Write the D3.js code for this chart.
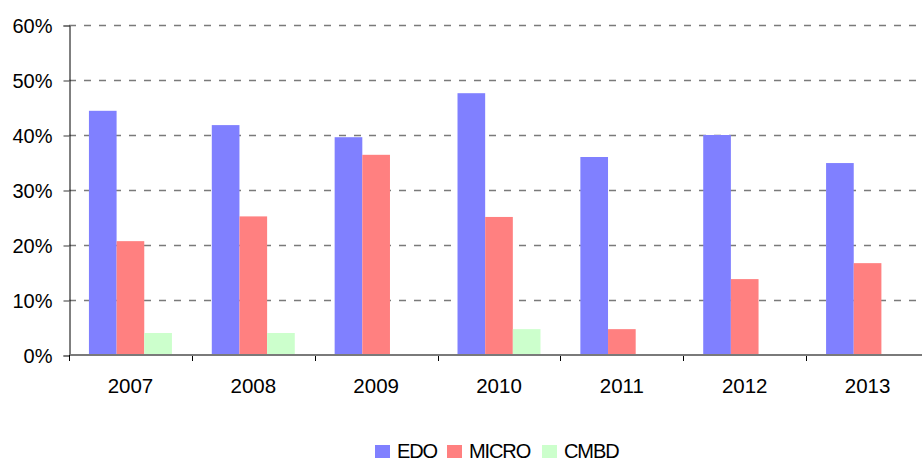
<!DOCTYPE html>
<html>
<head>
<meta charset="utf-8">
<script src="https://cdn.jsdelivr.net/npm/d3@7"></script>
<style>
  body { margin: 0; background: #fff; }
  text { font-family: "Liberation Sans", Arial, sans-serif; fill: #000; }
</style>
</head>
<body>
<svg width="922" height="459"></svg>
<script>
const years = ["2007", "2008", "2009", "2010", "2011", "2012", "2013"]
const seriesNames = ["EDO", "MICRO", "CMBD"]
const edo = [44.4, 41.8, 39.6, 47.6, 36.0, 40.0, 34.9]
const micro = [20.7, 25.2, 36.4, 25.1, 4.7, 13.8, 16.7]
const cmbd = [4.0, 4.0, 0, 4.7, 0, 0, 0]
const yTicks = [0, 10, 20, 30, 40, 50, 60]
const colors = ["#8080ff", "#ff8080", "#ccffcc"]

const svg = d3.select("svg")
const values = [edo, micro, cmbd]

const plotLeft = 69
const plotRight = 929
const plotTop = 25
const plotBottom = 355

const x0 = d3
  .scaleBand()
  .domain(years)
  .range([plotLeft, plotRight])
  .paddingInner(0.3245)
  .paddingOuter(0.3245 / 2)

const x1 = d3
  .scaleBand()
  .domain(seriesNames)
  .range([0, x0.bandwidth()])

const y = d3.scaleLinear().domain([0, 60]).range([plotBottom, plotTop])

// gridlines
svg
  .append("g")
  .selectAll("line")
  .data(yTicks.filter((d) => d > 0))
  .join("line")
  .attr("x1", plotLeft)
  .attr("x2", 922)
  .attr("y1", (d) => y(d) + 0.5)
  .attr("y2", (d) => y(d) + 0.5)
  .attr("stroke", "#7a7a7a")
  .attr("stroke-width", 1.5)
  .attr("stroke-dasharray", "7,8")

// bars
const groups = svg
  .append("g")
  .selectAll("g")
  .data(years)
  .join("g")
  .attr("transform", (d) => `translate(${x0(d)},0)`)

groups
  .selectAll("rect")
  .data((d, i) => seriesNames.map((s, j) => ({ s, v: values[j][i], c: colors[j] })))
  .join("rect")
  .attr("x", (d) => x1(d.s))
  .attr("width", x1.bandwidth())
  .attr("y", (d) => y(d.v))
  .attr("height", (d) => y(0) - y(d.v))
  .attr("fill", (d) => d.c)

// y axis
const yAxis = d3
  .axisLeft(y)
  .tickValues(yTicks)
  .tickSize(6)
  .tickPadding(11)
  .tickFormat((d) => d + "%")
const yAxisG = svg
  .append("g")
  .attr("transform", `translate(${plotLeft + 0.5},0.5)`)
  .call(yAxis)
yAxisG.select(".domain").attr("stroke", "#000")
yAxisG.selectAll(".tick line").attr("stroke", "#7a7a7a").attr("stroke-width", 1.5)
yAxisG.selectAll(".tick text").attr("font-size", 20).attr("dy", "0.33em")

// x axis
const xAxis = d3
  .axisBottom(x0)
  .tickSize(0)
  .tickPadding(23)
const xAxisG = svg
  .append("g")
  .attr("transform", `translate(0,${plotBottom})`)
  .call(xAxis)
xAxisG.select(".domain").remove()
xAxisG.selectAll(".tick text").attr("font-size", 20.5)

// category separators
svg
  .append("g")
  .selectAll("line")
  .data(years.slice(1))
  .join("line")
  .attr("x1", (d) => Math.round(x0(d) - x0.step() * x0.paddingInner() / 2) + 0.5)
  .attr("x2", (d) => Math.round(x0(d) - x0.step() * x0.paddingInner() / 2) + 0.5)
  .attr("y1", plotBottom)
  .attr("y2", plotBottom + 6)
  .attr("stroke", "#000")

// baseline
svg
  .append("line")
  .attr("x1", plotLeft)
  .attr("x2", 922)
  .attr("y1", plotBottom)
  .attr("y2", plotBottom)
  .attr("stroke", "#7a7a7a")
  .attr("stroke-width", 2)

svg
  .append("line")
  .attr("x1", plotLeft + 0.5)
  .attr("x2", plotLeft + 0.5)
  .attr("y1", plotBottom)
  .attr("y2", plotBottom + 6)
  .attr("stroke", "#000")

// legend
const legendX = [375, 447, 542]
const legend = svg
  .append("g")
  .selectAll("g")
  .data(seriesNames)
  .join("g")
  .attr("transform", (d, i) => `translate(${legendX[i]},445)`)
legend
  .append("rect")
  .attr("width", 15)
  .attr("height", 13)
  .attr("fill", (d, i) => colors[i])
legend
  .append("text")
  .attr("x", 22)
  .attr("y", 12.7)
  .attr("font-size", 20)
  .attr("letter-spacing", "-1.1")
  .text((d) => d)
</script>
</body>
</html>
